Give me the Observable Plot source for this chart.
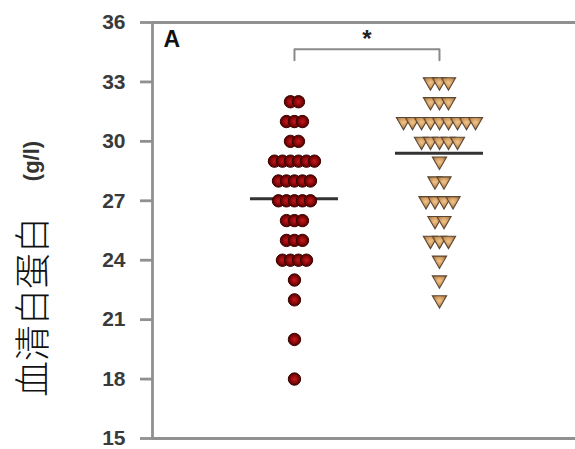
<!DOCTYPE html>
<html>
<head>
<meta charset="utf-8">
<script src="https://cdn.jsdelivr.net/npm/d3@7"></script>
<script src="https://cdn.jsdelivr.net/npm/@observablehq/plot@0.6"></script>
<style>
  html, body { margin: 0; padding: 0; background: #fff; }
</style>
</head>
<body>
<div id="chart"></div>
<script>
// ---- data ----
const groups = [1, 2];
const group1Values = [32, 32, 31, 31, 31, 30, 30,
  29, 29, 29, 29, 29, 29, 28, 28, 28, 28, 28,
  27, 27, 27, 27, 27, 26, 26, 26, 25, 25, 25,
  24, 24, 24, 24, 23, 22, 20, 18];
const group2Values = [33, 33, 33, 32, 32, 32,
  31, 31, 31, 31, 31, 31, 31, 31, 31,
  30, 30, 30, 30, 30, 29, 28, 28, 27, 27, 27, 27,
  26, 26, 25, 25, 25, 24, 23, 22];
const meanValues = [27.1, 29.4];
const yTicks = [15, 18, 21, 24, 27, 30, 33, 36];
const bracketLevels = [34.1, 34.65];
const sigLabel = "*";
const panelLabel = "A";
const yLabel = "血清白蛋白";
const unitLabel = "(g/l)";

// ---- layout ----
const W = 575, H = 449;
const mL = 152, mR = 0, mT = 22, mB = 11;
const xDomain = [0.021, 2.938];
const pxPerUnit = (W - mL - mR) / (xDomain[1] - xDomain[0]);

function swarm(values, group, spacingPx) {
  const counts = d3.rollup(values, v => v.length, d => d);
  const seen = new Map();
  return values.map(v => {
    const n = counts.get(v);
    const i = seen.get(v) ?? 0;
    seen.set(v, i + 1);
    return {group, value: v, x: group + (i - (n - 1) / 2) * spacingPx / pxPerUnit};
  });
}
const pts1 = swarm(group1Values, groups[0], 8);
const pts2 = swarm(group2Values, groups[1], 9);

const meanRows = groups.map((g, i) => ({x1: g - 44 / pxPerUnit, x2: g + 44 / pxPerUnit, y: meanValues[i]}));
const bracket = [
  {x: groups[0], y: bracketLevels[0]},
  {x: groups[0], y: bracketLevels[1]},
  {x: groups[1], y: bracketLevels[1]},
  {x: groups[1], y: bracketLevels[0]}
];

const triangleDown = {
  draw(ctx, size) {
    const h = Math.sqrt(size / (3 * Math.sqrt(3)));
    const w = Math.sqrt(3) * h;
    ctx.moveTo(0, 2 * h);
    ctx.lineTo(-w, -h);
    ctx.lineTo(w, -h);
    ctx.closePath();
  }
};

const svg = Plot.plot({
  width: W, height: H,
  marginLeft: mL, marginRight: mR, marginTop: mT, marginBottom: mB,
  style: {fontFamily: "'Liberation Sans', Arial, sans-serif", color: "#333", background: "#fff"},
  x: {domain: xDomain, axis: null},
  y: {domain: [15, 36], axis: null},
  marks: [
    Plot.axisY({ticks: yTicks, tickSize: 12, tickPadding: 15, label: null, stroke: "#909090", strokeWidth: 2.8, fill: "#3a3a3a", fontSize: 21, fontWeight: "bold"}),
    Plot.ruleX([xDomain[0]], {stroke: "#909090", strokeWidth: 2.8}),
    Plot.ruleY([15, 36], {stroke: "#909090", strokeWidth: 2.8}),
    Plot.ruleY(meanRows, {x1: "x1", x2: "x2", y: "y", stroke: "#333", strokeWidth: 3}),
    Plot.dot(pts1, {x: "x", y: "value", r: 6.2, fill: "url(#redGrad)", stroke: "#3a0000", strokeWidth: 1}),
    Plot.dot(pts2, {x: "x", y: "value", r: 5.3, symbol: triangleDown, fill: "url(#tanGrad)", stroke: "#5a4836", strokeWidth: 1.1}),
    Plot.line(bracket, {x: "x", y: "y", stroke: "#8a8a8a", strokeWidth: 2, strokeLinejoin: "round", curve: "linear"}),
    Plot.text([sigLabel], {x: (groups[0] + groups[1]) / 2, y: 35.3, fontSize: 24, fontWeight: "bold", fill: "#222", dy: 3}),
    Plot.text([panelLabel], {frameAnchor: "top-left", dx: 11, dy: 8, fontSize: 23, fontWeight: "bold", fill: "#111"})
  ]
});

const root = d3.select(svg);
// rotated y-axis title
root.append("text")
  .attr("transform", "translate(30,307) rotate(-90)")
  .attr("text-anchor", "middle")
  .attr("dominant-baseline", "central")
  .attr("font-family", "'Noto Sans CJK SC', sans-serif")
  .attr("font-weight", 300)
  .attr("font-size", 36)
  .attr("fill", "#111")
  .text(yLabel);
root.append("text")
  .attr("transform", "translate(31,161) rotate(-90)")
  .attr("text-anchor", "middle")
  .attr("dominant-baseline", "central")
  .attr("font-family", "'Liberation Sans', Arial, sans-serif")
  .attr("font-weight", "bold")
  .attr("font-size", 22)
  .attr("fill", "#333")
  .text(unitLabel);

const defs = root.insert("defs", ":first-child");
const rg = defs.append("radialGradient").attr("id", "redGrad").attr("cx", "50%").attr("cy", "50%").attr("r", "50%");
rg.append("stop").attr("offset", "0%").attr("stop-color", "#c41a20");
rg.append("stop").attr("offset", "60%").attr("stop-color", "#8a0808");
rg.append("stop").attr("offset", "100%").attr("stop-color", "#4a0000");
const tg = defs.append("radialGradient").attr("id", "tanGrad").attr("cx", "50%").attr("cy", "40%").attr("r", "60%");
tg.append("stop").attr("offset", "0%").attr("stop-color", "#f2c68c");
tg.append("stop").attr("offset", "60%").attr("stop-color", "#cc9458");
tg.append("stop").attr("offset", "100%").attr("stop-color", "#8c5e32");

document.getElementById("chart").appendChild(svg);
</script>
</body>
</html>
